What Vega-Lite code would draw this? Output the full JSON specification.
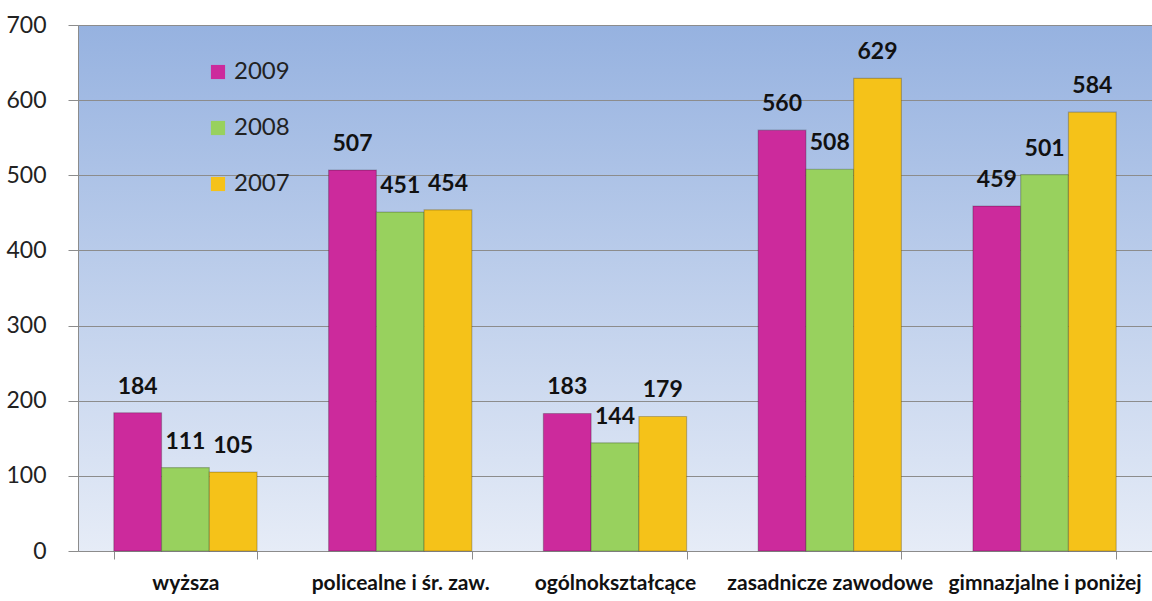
{
  "$schema": "https://vega.github.io/schema/vega-lite/v6.json",
  "width": 1074,
  "height": 526,
  "autosize": {"type": "none"},
  "padding": {"left": 78, "top": 25, "right": 0, "bottom": 50},
  "background": "white",
  "view": {
    "stroke": null,
    "fill": {"gradient": "linear", "x1": 0, "y1": 0, "x2": 0, "y2": 1,
      "stops": [{"offset": 0, "color": "#96b2e0"}, {"offset": 1, "color": "#e6ecf7"}]}
  },
  "data": {
    "values": [
      {"kategoria": "wyższa", "rok": "2009", "wartosc": 184},
      {"kategoria": "wyższa", "rok": "2008", "wartosc": 111},
      {"kategoria": "wyższa", "rok": "2007", "wartosc": 105},
      {"kategoria": "policealne i śr. zaw.", "rok": "2009", "wartosc": 507},
      {"kategoria": "policealne i śr. zaw.", "rok": "2008", "wartosc": 451},
      {"kategoria": "policealne i śr. zaw.", "rok": "2007", "wartosc": 454},
      {"kategoria": "ogólnokształcące", "rok": "2009", "wartosc": 183},
      {"kategoria": "ogólnokształcące", "rok": "2008", "wartosc": 144},
      {"kategoria": "ogólnokształcące", "rok": "2007", "wartosc": 179},
      {"kategoria": "zasadnicze zawodowe", "rok": "2009", "wartosc": 560},
      {"kategoria": "zasadnicze zawodowe", "rok": "2008", "wartosc": 508},
      {"kategoria": "zasadnicze zawodowe", "rok": "2007", "wartosc": 629},
      {"kategoria": "gimnazjalne i poniżej", "rok": "2009", "wartosc": 459},
      {"kategoria": "gimnazjalne i poniżej", "rok": "2008", "wartosc": 501},
      {"kategoria": "gimnazjalne i poniżej", "rok": "2007", "wartosc": 584}
    ]
  },
  "encoding": {
    "x": {
      "field": "kategoria", "type": "nominal", "sort": null,
      "scale": {"paddingInner": 0.333, "paddingOuter": 0.1667},
      "axis": {
        "title": null, "labelAngle": 0, "labelFont": "Lato", "labelFontSize": 21,
        "labelFontWeight": "bold", "labelColor": "#111", "labelPadding": 13,
        "labelLimit": 0, "labelOverlap": false, "labelBound": false,
        "tickBand": "extent", "tickSize": 8, "tickColor": "#8c8c8c",
        "domainColor": "#8c8c8c", "grid": false
      }
    },
    "xOffset": {"field": "rok", "type": "nominal", "sort": ["2009", "2008", "2007"]},
    "y": {
      "field": "wartosc", "type": "quantitative",
      "scale": {"domain": [0, 700], "nice": false},
      "axis": {
        "title": null, "values": [0, 100, 200, 300, 400, 500, 600, 700],
        "labelFont": "Lato", "labelFontSize": 23, "labelColor": "#222",
        "labelPadding": 22, "tickSize": 10, "tickColor": "#8c8c8c",
        "domainColor": "#8c8c8c", "gridColor": "#8c8c8c", "gridWidth": 1.2
      }
    }
  },
  "layer": [
    {
      "mark": {"type": "bar", "stroke": "#00000038", "strokeWidth": 1.2},
      "encoding": {
        "color": {
          "field": "rok", "type": "nominal",
          "scale": {"domain": ["2009", "2008", "2007"], "range": ["#cc2a9c", "#98d15e", "#f5c219"]},
          "legend": {
            "title": null, "orient": "none", "legendX": 128, "legendY": 35,
            "symbolType": "square", "symbolSize": 200, "symbolStrokeWidth": 0,
            "labelFont": "Lato", "labelFontSize": 24, "labelColor": "#222",
            "rowPadding": 32, "labelOffset": 4
          }
        }
      }
    },
    {
      "mark": {"type": "text", "font": "Lato", "fontSize": 23, "fontWeight": "bold", "color": "#111", "baseline": "alphabetic", "dy": -19},
      "encoding": {
        "text": {"field": "wartosc", "type": "quantitative"}
      }
    }
  ]
}
